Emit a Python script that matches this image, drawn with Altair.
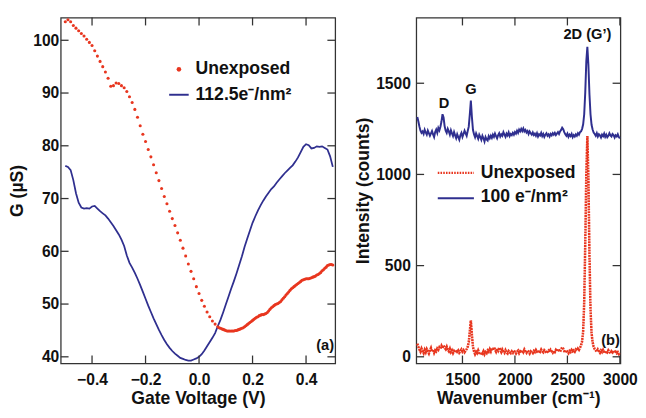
import altair as alt
import pandas as pd

FONT = "Liberation Sans"
RED = "#e8361f"
BLUE = "#2f2f8f"
TICK = 8
WA, WB, H = 281, 209, 354

# ---------------- panel (a): conductance vs gate voltage ----------------
red_vg = [round(-0.50 + 0.01 * i, 3) for i in range(58)] + [round(0.075 + 0.005 * i, 3) for i in range(86)]
red_g = [
    103.5, 103.9, 103.5, 102.8, 102.3, 101.8, 101.3, 100.8, 100.2, 99.6,
    99.0, 98.0, 97.0, 96.0, 95.0, 94.0, 92.8, 91.3, 91.4, 91.9,
    91.8, 91.4, 91.0, 90.3, 89.3, 88.2, 86.9, 85.4, 83.8, 82.2,
    80.8, 79.3, 77.9, 76.4, 74.9, 73.4, 71.9, 70.4, 69.0, 67.6,
    66.2, 64.9, 63.5, 62.1, 60.6, 59.1, 57.6, 56.2, 54.8, 53.3,
    52.0, 50.7, 49.6, 48.5, 47.6, 46.8, 46.2, 45.7,
    45.5, 45.4, 45.3, 45.2, 45.1, 45.0, 44.9, 44.9, 44.9, 44.9,
    44.9, 44.9, 45.0, 45.0, 45.1, 45.2, 45.3, 45.4, 45.5, 45.7,
    45.9, 46.1, 46.3, 46.5, 46.7, 46.9, 47.1, 47.3, 47.5, 47.6,
    47.8, 47.9, 48.0, 48.0, 48.1, 48.2, 48.4, 48.7, 49.0, 49.3,
    49.5, 49.7, 49.9, 50.0, 50.1, 50.3, 50.5, 50.8, 51.1, 51.4,
    51.7, 52.0, 52.3, 52.6, 52.9, 53.1, 53.3, 53.5, 53.7, 53.9,
    54.1, 54.3, 54.5, 54.6, 54.7, 54.8, 54.8, 54.8, 54.9, 55.0,
    55.1, 55.2, 55.3, 55.5, 55.6, 55.8, 56.0, 56.3, 56.5, 56.8,
    57.0, 57.3, 57.4, 57.5, 57.5, 57.4,
]
blue_vg = [round(-0.50 + 0.01 * i, 2) for i in range(101)]
blue_g = [
    76.2, 76.0, 75.4, 73.5, 71.0, 69.2, 68.3, 68.1, 68.2, 68.1,
    68.5, 68.6, 68.1, 67.6, 67.2, 66.8, 66.2, 65.5, 64.8, 64.0,
    63.2, 62.2, 61.0, 59.2, 57.8, 56.9, 55.9, 54.8, 53.6, 52.3,
    51.0, 49.7, 48.5, 47.3, 46.2, 45.1, 44.1, 43.2, 42.4, 41.7,
    41.1, 40.6, 40.2, 39.8, 39.6, 39.4, 39.3, 39.3, 39.5, 39.7,
    40.0, 40.5, 41.2, 42.0, 42.8, 43.6, 44.5, 45.8, 47.0, 48.4,
    49.9, 51.4, 52.9, 54.3, 55.8, 57.4, 59.0, 60.8, 62.4, 63.9,
    65.4, 66.6, 67.7, 68.7, 69.6, 70.4, 71.1, 71.8, 72.3, 73.0,
    73.6, 74.2, 74.8, 75.3, 75.8, 76.3, 77.0, 77.8, 78.8, 79.8,
    80.3, 80.1, 79.5, 79.6, 79.9, 79.8, 79.9, 79.6, 79.3, 78.0, 76.0,
]
a_x_ticks = [-0.4, -0.2, 0.0, 0.2, 0.4]
a_y_ticks = [40, 50, 60, 70, 80, 90, 100]
a_legend_labels = ["Unexposed", "112.5e\u207b/nm\u00b2"]

# ---------------- panel (b): Raman spectra ----------------
wavenumber = list(range(1070, 3001, 10))
blue_counts = [
    1315, 1290, 1262, 1240, 1228, 1236, 1222, 1245, 1230, 1218,
    1240, 1226, 1212, 1225, 1238, 1220, 1205, 1232, 1246, 1228,
    1255, 1242, 1262, 1290, 1330, 1312, 1265, 1240, 1228, 1250,
    1236, 1218, 1242, 1225, 1210, 1232, 1214, 1198, 1220, 1205,
    1190, 1215, 1228, 1206, 1222, 1240, 1225, 1212, 1238, 1262,
    1330, 1405, 1315, 1245, 1220, 1204, 1225, 1210, 1195, 1218,
    1205, 1190, 1212, 1198, 1180, 1205, 1192, 1186, 1210, 1198,
    1212, 1200, 1218, 1206, 1224, 1210, 1198, 1215, 1226, 1208,
    1220, 1212, 1232, 1218, 1206, 1224, 1214, 1230, 1210, 1222,
    1215, 1228, 1218, 1232, 1224, 1240, 1228, 1246, 1236, 1250,
    1238, 1252, 1236, 1244, 1230, 1238, 1222, 1236, 1226, 1218,
    1230, 1216, 1224, 1212, 1226, 1208, 1220, 1214, 1228, 1210,
    1222, 1206, 1218, 1226, 1212, 1220, 1208, 1222, 1214, 1226,
    1218, 1228, 1216, 1224, 1232, 1222, 1236, 1244, 1256, 1248,
    1232, 1220, 1212, 1224, 1206, 1218, 1210, 1222, 1204, 1216,
    1208, 1220, 1212, 1226, 1218, 1232, 1236, 1250, 1275, 1330,
    1450, 1620, 1700, 1600, 1440, 1330, 1272, 1246, 1230, 1222,
    1212, 1226, 1208, 1220, 1214, 1202, 1218, 1210, 1224, 1206,
    1218, 1204, 1212, 1226, 1214, 1208, 1222, 1216, 1202, 1215,
    1208, 1220, 1205, 1198,
]
red_counts = [
    72, 55, 40, 28, 45, 32, 20, 38, 25, 42,
    30, 18, 35, 48, 28, 40, 22, 36, 30, 45,
    38, 52, 44, 60, 48, 62, 50, 42, 55, 38,
    30, 44, 26, 35, 20, 32, 24, 38, 28, 35,
    22, 30, 40, 28, 36, 25, 34, 42, 55, 80,
    140, 200, 120, 55, 30, 15, 28, 20, 35, 22,
    12, 25, 18, 30, 14, 26, 20, 35, 28, 42,
    30, 48, 36, 52, 40, 28, 45, 34, 50, 38,
    26, 40, 30, 22, 36, 24, 18, 32, 26, 20,
    30, 22, 35, 26, 18, 28, 34, 20, 30, 24,
    36, 26, 40, 30, 22, 34, 28, 18, 30, 25,
    20, 32, 26, 38, 28, 22, 35, 28, 40, 30,
    24, 36, 30, 20, 28, 34, 25, 38, 30, 22,
    32, 26, 38, 30, 42, 35, 28, 40, 52, 45,
    30, 24, 36, 28, 20, 32, 26, 38, 30, 35,
    28, 40, 34, 45, 38, 50, 62, 85, 140, 300,
    620, 1000, 1210, 980, 560, 260, 130, 80, 55, 42,
    35, 28, 40, 30, 22, 34, 26, 38, 28, 20,
    32, 25, 36, 28, 18, 30, 24, 34, 22, 28,
    20, 26, 15, 22,
]
b_x_ticks = [1500, 2000, 2500, 3000]
b_y_ticks = [0, 500, 1000, 1500]
b_legend_labels = ["Unexposed", "100 e\u207b/nm\u00b2"]
peak_labels = ["D", "G", "2D (G\u2019)"]
peak_wn = [1325, 1580, 2691]
peak_y = [1390, 1468, 1767]


def main_axis(orient, values, title, fmt, lpad, tpad, tsize):
    return alt.Axis(orient=orient, values=values, title=title, format=fmt,
                    ticks=False, domain=False, grid=False,
                    labelPadding=lpad, titlePadding=tpad, labelFlush=False,
                    labelFont=FONT, labelFontSize=16, labelFontWeight="bold",
                    labelColor="#111", titleFont=FONT, titleFontSize=tsize,
                    titleFontWeight="bold", titleColor="#111")


def text_layer(df, size, weight, align="left"):
    return alt.Chart(df).mark_text(font=FONT, fontSize=size, fontWeight=weight,
                                   align=align, baseline="middle", color="#111")


def inner_ticks(xvals, yvals, xs, ys, xax, yax, w, h):
    """Inward tick marks on all four sides, placed through the panel's scales."""
    tx = pd.DataFrame({"v": xvals})
    ty = pd.DataFrame({"v": yvals})
    tick = dict(color="#333", opacity=1, size=TICK, thickness=1.3)
    xb = alt.Chart(tx).mark_tick(orient="vertical", **tick).encode(
        x=alt.X("v:Q", scale=xs, axis=xax), y=alt.value(h - TICK / 2))
    xt = alt.Chart(tx).mark_tick(orient="vertical", **tick).encode(
        x=alt.X("v:Q", scale=xs, axis=xax), y=alt.value(TICK / 2))
    yl = alt.Chart(ty).mark_tick(orient="horizontal", **tick).encode(
        y=alt.Y("v:Q", scale=ys, axis=yax), x=alt.value(TICK / 2))
    yr = alt.Chart(ty).mark_tick(orient="horizontal", **tick).encode(
        y=alt.Y("v:Q", scale=ys, axis=yax), x=alt.value(w - TICK / 2))
    return [xb, xt, yl, yr]


# ---------------- build panel (a) ----------------
xa = alt.Scale(domain=[-0.517, 0.509], nice=False, zero=False)
ya = alt.Scale(domain=[38.76, 104.3], nice=False, zero=False)
xa_axis = main_axis("bottom", a_x_ticks, "Gate Voltage (V)", ".1f", 9, 2, 18)
ya_axis = main_axis("left", a_y_ticks, "G (\u00b5S)", "d", 2, 6, 18)

df_blue_a = pd.DataFrame({"vg": blue_vg, "g": blue_g})
df_red_a = pd.DataFrame({"vg": red_vg, "g": red_g})

blue_a = alt.Chart(df_blue_a).mark_line(color=BLUE, strokeWidth=1.8).encode(
    x=alt.X("vg:Q", scale=xa, axis=xa_axis),
    y=alt.Y("g:Q", scale=ya, axis=ya_axis),
)
red_a = alt.Chart(df_red_a).mark_circle(color=RED, size=10, opacity=1).encode(
    x=alt.X("vg:Q", scale=xa, axis=xa_axis),
    y=alt.Y("g:Q", scale=ya, axis=ya_axis),
)
leg_a_dot = alt.Chart(pd.DataFrame({"k": [0]})).mark_circle(color=RED, size=22, opacity=1).encode(
    x=alt.value(121), y=alt.value(53))
leg_a_line = alt.Chart(pd.DataFrame({"k": [0]})).mark_rule(color=BLUE, strokeWidth=2).encode(
    x=alt.value(111), x2=alt.value(131), y=alt.value(79))
leg_a_text = text_layer(pd.DataFrame({"t": [a_legend_labels[0]]}), 18, "bold").encode(
    x=alt.value(138), y=alt.value(53), text="t:N")
leg_a_text2 = text_layer(pd.DataFrame({"t": [a_legend_labels[1]]}), 18, "bold").encode(
    x=alt.value(138), y=alt.value(79), text="t:N")
lab_a = text_layer(pd.DataFrame({"t": ["(a)"], "x": [0.505], "y": [42.2]}), 15, "bold", "right").encode(
    x=alt.X("x:Q", scale=xa, axis=xa_axis), y=alt.Y("y:Q", scale=ya, axis=ya_axis), text="t:N")

panel_a = alt.layer(blue_a, red_a, leg_a_dot, leg_a_line, leg_a_text, leg_a_text2, lab_a,
                    *inner_ticks(a_x_ticks, a_y_ticks, xa, ya, xa_axis, ya_axis, WA, H)
                    ).properties(width=WA, height=H)

# ---------------- build panel (b) ----------------
xb = alt.Scale(domain=[1060, 3005], nice=False, zero=False)
yb = alt.Scale(domain=[-36, 1860], nice=False, zero=False)
xb_axis = main_axis("bottom", b_x_ticks, "Wavenumber (cm\u207b\u00b9)", "d", 9, 2, 18)
yb_axis = main_axis("left", b_y_ticks, "Intensity (counts)", "d", 6, 3, 18)

df_b = pd.DataFrame({"wn": wavenumber, "blue": blue_counts, "red": red_counts})

blue_b = alt.Chart(df_b).mark_line(color=BLUE, strokeWidth=2).encode(
    x=alt.X("wn:Q", scale=xb, axis=xb_axis),
    y=alt.Y("blue:Q", scale=yb, axis=yb_axis),
)
red_b = alt.Chart(df_b).mark_line(color=RED, strokeWidth=2.6, strokeDash=[2, 0.8]).encode(
    x=alt.X("wn:Q", scale=xb, axis=xb_axis),
    y=alt.Y("red:Q", scale=yb, axis=yb_axis),
)
leg_b_red = alt.Chart(pd.DataFrame({"k": [0]})).mark_rule(color=RED, strokeWidth=2.5, strokeDash=[1.6, 1.2]).encode(
    x=alt.value(22), x2=alt.value(59), y=alt.value(159))
leg_b_blue = alt.Chart(pd.DataFrame({"k": [0]})).mark_rule(color=BLUE, strokeWidth=2).encode(
    x=alt.value(22), x2=alt.value(59), y=alt.value(185))
leg_b_text = text_layer(pd.DataFrame({"t": [b_legend_labels[0]]}), 18, "bold").encode(
    x=alt.value(66), y=alt.value(159), text="t:N")
leg_b_text2 = text_layer(pd.DataFrame({"t": [b_legend_labels[1]]}), 18, "bold").encode(
    x=alt.value(66), y=alt.value(184), text="t:N")
peaks_b = text_layer(pd.DataFrame({"t": peak_labels, "x": peak_wn, "y": peak_y}), 15, "bold", "center").encode(
    x=alt.X("x:Q", scale=xb, axis=xb_axis), y=alt.Y("y:Q", scale=yb, axis=yb_axis), text="t:N")
lab_b = text_layer(pd.DataFrame({"t": ["(b)"], "x": [3000], "y": [93]}), 15, "bold", "right").encode(
    x=alt.X("x:Q", scale=xb, axis=xb_axis), y=alt.Y("y:Q", scale=yb, axis=yb_axis), text="t:N")

panel_b = alt.layer(blue_b, red_b, leg_b_red, leg_b_blue, leg_b_text, leg_b_text2, peaks_b, lab_b,
                    *inner_ticks(b_x_ticks, b_y_ticks, xb, yb, xb_axis, yb_axis, WB, H)
                    ).properties(width=WB, height=H)

chart = alt.hconcat(panel_a, panel_b, spacing=17).properties(
    padding={"left": 0, "top": 4, "right": 0, "bottom": 0}
).configure_view(stroke="#333", strokeWidth=1.3)

chart.save("out.html", embed_options={"renderer": "svg", "actions": False})
